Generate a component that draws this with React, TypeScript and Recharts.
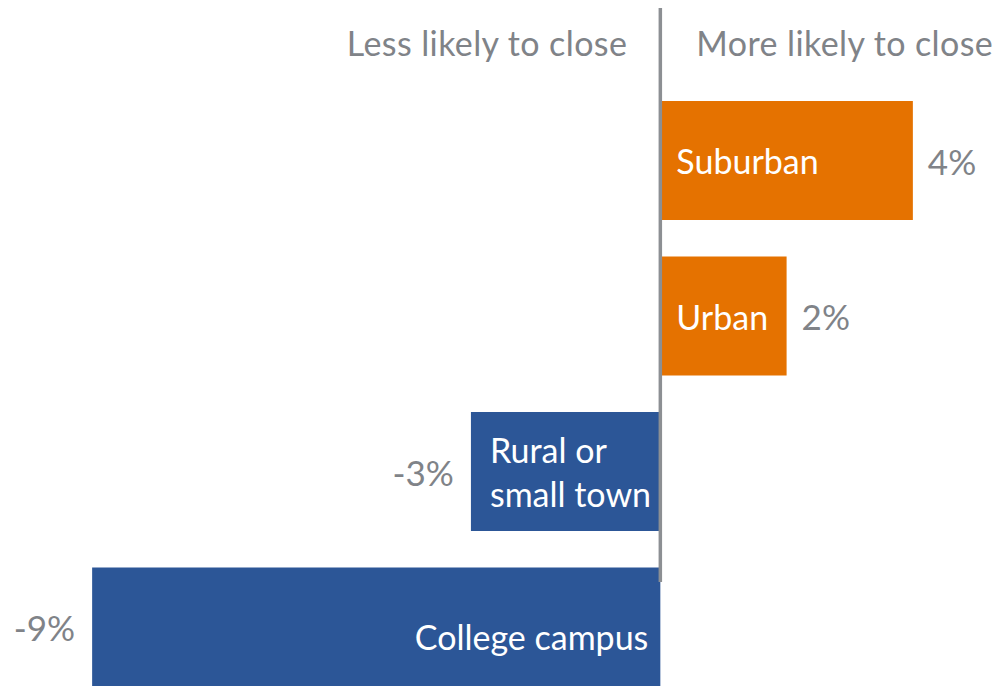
import { BarChart, Bar, XAxis, YAxis, Cell, LabelList, ReferenceLine } from 'recharts';

const CATEGORIES = ['Suburban', 'Urban', 'Rural or\nsmall town', 'College campus'];
const VALUES = [4, 2, -3, -9];
const SIDE_LABELS = ['Less likely to close', 'More likely to close'];

const ORANGE = '#E57200';
const BLUE = '#2C5697';
const GREY = '#808388';
const FONT = 'Lato, "Open Sans", sans-serif';

const data = CATEGORIES.map((name, i) => ({ name, value: VALUES[i] }));

function BarLabel(props: any) {
  const { x, y, width, height, index } = props;
  const v = VALUES[index];
  const left = Math.min(x, x + width);
  const right = Math.max(x, x + width);
  const cy = y + height / 2;
  const lines = CATEGORIES[index].split('\n');
  const pct = `${v}%`;

  let nameEl;
  if (v >= 0) {
    nameEl = (
      <text x={left + 16} y={cy} dominantBaseline="central" fill="#fff" fontSize={34} fontFamily={FONT}>
        {lines[0]}
      </text>
    );
  } else if (lines.length > 1) {
    nameEl = (
      <text fill="#fff" fontSize={34} fontFamily={FONT}>
        {lines.map((ln, i) => (
          <tspan key={i} x={left + 19} y={cy + (i - (lines.length - 1) / 2) * 44} dominantBaseline="central">
            {ln}
          </tspan>
        ))}
      </text>
    );
  } else {
    // long bar at the bottom edge: label sits a bit below centre
    nameEl = (
      <text x={right - 12} y={cy + 9} dominantBaseline="central" textAnchor="end" fill="#fff" fontSize={34} fontFamily={FONT}>
        {lines[0]}
      </text>
    );
  }

  return (
    <g>
      {nameEl}
      <text
        x={v >= 0 ? right + 15 : left - 17}
        y={cy}
        dominantBaseline="central"
        textAnchor={v >= 0 ? 'start' : 'end'}
        fill={GREY}
        fontSize={35}
        fontFamily={FONT}
      >
        {pct}
      </text>
    </g>
  );
}

function ZeroLine(props: any) {
  const x = props.x1;
  return (
    <g>
      <line x1={x} x2={x} y1={8} y2={582} stroke="#8C8F93" strokeWidth={3.5} />
      <text x={x - 33} y={42} dominantBaseline="central" textAnchor="end" fill={GREY} fontSize={34} letterSpacing={0.4} fontFamily={FONT}>
        {SIDE_LABELS[0]}
      </text>
      <text x={x + 36} y={42} dominantBaseline="central" textAnchor="start" fill={GREY} fontSize={34} letterSpacing={0.4} fontFamily={FONT}>
        {SIDE_LABELS[1]}
      </text>
    </g>
  );
}

export default function App() {
  return (
    <div style={{ position: 'absolute', left: 0, top: 0, width: 998, height: 686, background: '#fff' }}>
      <BarChart
        width={998}
        height={686}
        data={data}
        layout="vertical"
        margin={{ top: 83, right: 22, bottom: -19, left: 29 }}
      >
        <XAxis type="number" domain={[-10, 5]} hide />
        <YAxis type="category" dataKey="name" hide />
        <Bar dataKey="value" barSize={119} isAnimationActive={false}>
          {data.map((d, i) => (
            <Cell key={i} fill={d.value >= 0 ? ORANGE : BLUE} />
          ))}
          <LabelList dataKey="value" content={<BarLabel />} />
        </Bar>
        <ReferenceLine x={0} ifOverflow="visible" shape={<ZeroLine />} />
      </BarChart>
    </div>
  );
}
